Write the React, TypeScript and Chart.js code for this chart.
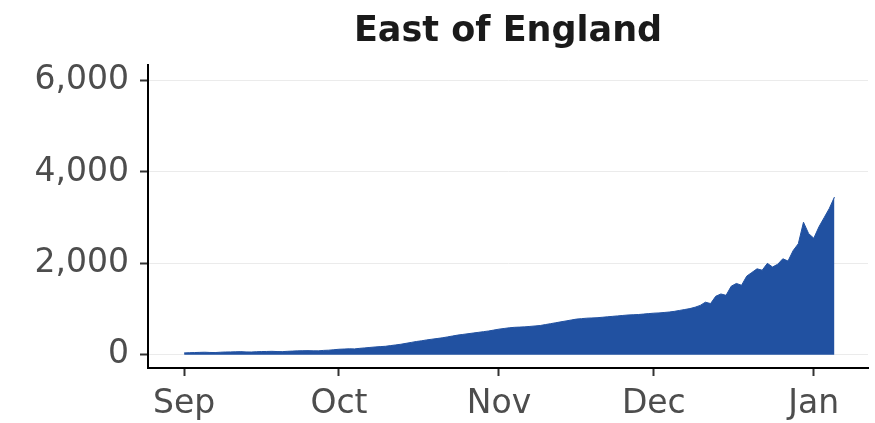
import React, { useEffect, useRef } from "react";
import { Chart, registerables } from "chart.js";

Chart.register(...registerables);

const TITLE = "East of England";

// Daily values, 1 Sep (day 0) to 5 Jan (day 126)
const dailyValues: number[] = [
  40, 45, 48, 52, 55, 50, 48, 55, 60, 62,
  65, 68, 62, 60, 66, 70, 72, 75, 70, 68,
  75, 80, 85, 88, 90, 86, 85, 95, 100, 110,
  120, 125, 130, 128, 140, 150, 160, 170, 178, 185,
  200, 215, 230, 250, 270, 290, 305, 325, 340, 355,
  370, 390, 410, 430, 445, 460, 475, 490, 505, 520,
  540, 560, 575, 590, 600, 605, 610, 620, 630, 640,
  660, 680, 700, 720, 740, 760, 780, 790, 800, 805,
  810, 820, 830, 840, 850, 860, 870, 875, 880, 890,
  900, 910, 915, 925, 935, 950, 970, 990, 1010, 1040,
  1080, 1150, 1120, 1280, 1330, 1300, 1500, 1560, 1520, 1720,
  1800, 1880, 1850, 2000, 1920, 1980, 2100, 2050, 2280, 2430,
  2900, 2650, 2550, 2800, 3000, 3200, 3450,
];

// Month tick positions (days since 1 Sep) and labels
const monthTickDays: number[] = [0, 30, 61, 91, 122];
const monthLabels: string[] = ["Sep", "Oct", "Nov", "Dec", "Jan"];

// Y axis ticks
const yTickValues: number[] = [0, 2000, 4000, 6000];

const FILL = "#2151A1";
const FONT = "'DejaVu Sans', sans-serif";

const titlePlugin = {
  id: "panelTitle",
  afterDraw(chart: any) {
    const { ctx, chartArea } = chart;
    ctx.save();
    ctx.font = `bold 35px ${FONT}`;
    ctx.fillStyle = "#1a1a1a";
    ctx.textAlign = "center";
    ctx.textBaseline = "alphabetic";
    ctx.fillText(TITLE, (chartArea.left + chartArea.right) / 2, 41);
    ctx.restore();
  },
};

export default function App() {
  const ref = useRef<HTMLCanvasElement | null>(null);

  useEffect(() => {
    if (!ref.current) return;
    const points = dailyValues.map((v, i) => ({ x: i, y: v }));
    const chart = new Chart(ref.current, {
      type: "line",
      data: {
        datasets: [
          {
            data: points,
            borderColor: FILL,
            backgroundColor: FILL,
            borderWidth: 1,
            pointRadius: 0,
            fill: "origin",
            tension: 0,
          },
        ],
      },
      plugins: [titlePlugin],
      options: {
        animation: false,
        responsive: true,
        maintainAspectRatio: false,
        layout: { padding: { top: 65, right: 7, left: 0, bottom: 0 } },
        plugins: {
          legend: { display: false },
          tooltip: { enabled: false },
          title: { display: false },
        },
        scales: {
          x: {
            type: "linear",
            min: -7,
            max: 132.5,
            afterBuildTicks: (scale: any) => {
              scale.ticks = monthTickDays.map((v) => ({ value: v }));
            },
            afterFit: (scale: any) => {
              scale.height = 55;
            },
            ticks: {
              autoSkip: false,
              maxRotation: 0,
              padding: 9,
              color: "#4D4D4D",
              font: { family: FONT, size: 33 },
              callback: (_v: any, i: number) => monthLabels[i],
            },
            grid: {
              display: true,
              drawOnChartArea: false,
              drawTicks: true,
              tickLength: 8,
              tickColor: "#333333",
              tickWidth: 2,
            },
            border: { display: true, color: "#000000", width: 2 },
          },
          y: {
            type: "linear",
            min: -290,
            max: 6340,
            afterBuildTicks: (scale: any) => {
              scale.ticks = yTickValues.map((v) => ({ value: v }));
            },
            afterFit: (scale: any) => {
              scale.width = 148;
            },
            ticks: {
              padding: 11,
              color: "#4D4D4D",
              font: { family: FONT, size: 33 },
              callback: (v: any) => Number(v).toLocaleString("en-US"),
            },
            grid: {
              display: true,
              drawOnChartArea: true,
              color: "#EBEBEB",
              lineWidth: 1,
              drawTicks: true,
              tickLength: 8,
              tickColor: "#333333",
              tickWidth: 2,
            },
            border: { display: true, color: "#000000", width: 2 },
          },
        },
      },
    });
    return () => chart.destroy();
  }, []);

  return (
    <div
      style={{
        position: "fixed",
        left: 0,
        top: 0,
        width: 875,
        height: 423,
        background: "#ffffff",
      }}
    >
      <canvas ref={ref} />
    </div>
  );
}
